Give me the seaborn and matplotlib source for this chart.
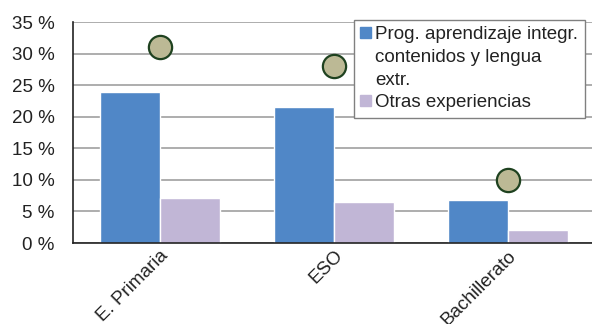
import numpy as np
import pandas as pd
import matplotlib
matplotlib.use("Agg")
import matplotlib.pyplot as plt
import matplotlib.patches as mpatches
import seaborn as sns

# data
categories = ["E. Primaria", "ESO", "Bachillerato"]
series_names = ["Prog. aprendizaje integr.\ncontenidos y lengua\nextr.", "Otras experiencias"]
series_colors = ["#5087C7", "#C1B6D6"]
clil_vals = [23.9, 21.5, 6.8]
other_vals = [7.1, 6.5, 2.1]
marker_vals = [31.0, 28.0, 10.0]
y_ticks = [0, 5, 10, 15, 20, 25, 30, 35]

df = pd.DataFrame({
    "nivel": categories * 2,
    "serie": [series_names[0]] * 3 + [series_names[1]] * 3,
    "valor": clil_vals + other_vals,
})

sns.set_theme(style="white")
plt.rcParams["font.family"] = ["Liberation Sans", "DejaVu Sans"]

fig = plt.figure(figsize=(5.92, 3.24), dpi=100)
ax = fig.add_axes([0.123, 0.25, 0.882, 0.682])

sns.barplot(data=df, x="nivel", y="valor", hue="serie", order=categories,
            hue_order=series_names, palette=series_colors,
            width=0.69, gap=0, saturation=1, ax=ax, zorder=2, legend=False)

# circle markers at group centres
ax.scatter(np.arange(len(categories)), marker_vals, s=280, color="#BCB995",
           edgecolor="#1F4220", linewidth=1.6, zorder=4)

ax.set_xlim(-0.5, 2.5)
ax.set_ylim(0, 35)
ax.set_yticks(y_ticks)
ax.set_yticklabels([f"{v} %" for v in y_ticks], fontsize=13.5, color="#222222")
ax.set_xticks(range(len(categories)))
ax.set_xticklabels(categories, rotation=45, ha="right", rotation_mode="anchor",
                   fontsize=13.5, color="#222222")
ax.tick_params(axis="x", length=0, pad=3)
ax.tick_params(axis="y", length=0, pad=13)
ax.set_xlabel("")
ax.set_ylabel("")
ax.yaxis.grid(True, color="#A0A0A0", linewidth=1.2, zorder=0)
ax.set_axisbelow(True)
for side in ["top", "right"]:
    ax.spines[side].set_visible(False)
ax.spines["left"].set_color("#222222")
ax.spines["bottom"].set_color("#222222")
ax.spines["left"].set_linewidth(1.2)
ax.spines["bottom"].set_linewidth(1.2)

# legend: square marker only next to the first line of each label
handles, labels = [], []
for name, col in zip(series_names, series_colors):
    for i, line in enumerate(name.split("\n")):
        if i == 0:
            handles.append(mpatches.Patch(color=col))
        else:
            handles.append(mpatches.Patch(color="none"))
        labels.append(line)

leg = ax.legend(handles, labels, loc="upper left", bbox_to_anchor=(0.538, 1.01),
                frameon=True, fancybox=False, edgecolor="#808080", fontsize=13.5,
                handlelength=0.55, handleheight=0.55, handletextpad=0.25,
                borderpad=0.35, labelspacing=0.3, framealpha=1,
                borderaxespad=0)
leg.get_frame().set_linewidth(1.0)
for t in leg.get_texts():
    t.set_color("#222222")

fig.savefig("out.png", dpi=100)
